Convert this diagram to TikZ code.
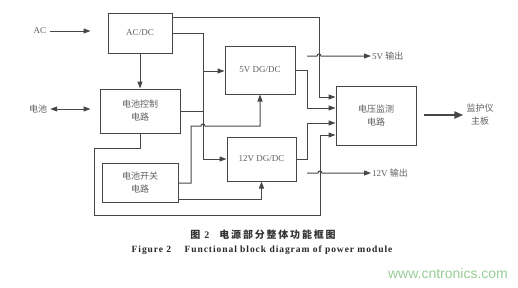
\documentclass[tikz,border=0pt]{standalone}
\usepackage{fontspec}
\setmainfont{Liberation Serif}
\newfontfamily\wmfont{Liberation Sans}
\newfontfamily\cjk{Noto Sans CJK SC}
\newfontfamily\cjkcap[LetterSpace=18]{Noto Sans CJK SC}
\newfontfamily\engcap[LetterSpace=10]{Liberation Serif}
\usetikzlibrary{arrows.meta}
\definecolor{linecol}{RGB}{70,70,70}
\definecolor{txtcol}{RGB}{95,95,95}
\definecolor{wmgreen}{RGB}{150,205,150}

\begin{document}
\begin{tikzpicture}[x=1pt,y=-1pt,
  box/.style={draw=linecol,line width=1pt,align=center,text=txtcol,
    font=\cjk\fontsize{9}{13}\selectfont},
  lbl/.style={text=txtcol,align=center,inner sep=1pt,
    font=\cjk\fontsize{9}{13}\selectfont},
  wire/.style={draw=linecol,line width=1pt},
  arr/.style={wire,-{Triangle[length=7pt,width=5pt]}}]
\useasboundingbox (0,0) rectangle (518,287);

% blocks
\node[box,minimum width=64pt,minimum height=40pt,font=\rmfamily\fontsize{9}{13}\selectfont] (acdc) at (140,33) {AC/DC};
\node[box,minimum width=80pt,minimum height=44pt] (batctrl) at (140,111) {电池控制\\电路};
\node[box,minimum width=76pt,minimum height=39pt] (batsw) at (140,182.5) {电池开关\\电路};
\node[box,minimum width=70pt,minimum height=48pt,font=\rmfamily\fontsize{9}{13}\selectfont] (dc5) at (260,70) {5V DG/DC};
\node[box,minimum width=69pt,minimum height=44pt,font=\rmfamily\fontsize{9}{13}\selectfont] (dc12) at (261.5,159) {12V DG/DC};
\node[box,minimum width=80pt,minimum height=59pt] (mon) at (376,115.5) {电压监测\\电路};

% labels
\node[lbl,font=\rmfamily\fontsize{9}{13}\selectfont] (ac) at (40,31) {AC};
\node[lbl] (bat) at (38,109) {电池};
\node[lbl,anchor=west] (o5) at (371,56) {\rmfamily 5V {\cjk 输出}};
\node[lbl,anchor=west] (o12) at (371,173) {\rmfamily 12V {\cjk 输出}};
\node[lbl] (host) at (480,115) {监护仪\\主板};
\coordinate (o5s) at (307,56);
\coordinate (o12s) at (307,173);

% inputs
\draw[arr,shorten <=3pt,shorten >=17pt] (ac) -- (acdc.west |- ac);
\draw[wire,{Triangle[length=7pt,width=5pt]}-{Triangle[length=7pt,width=5pt]},shorten <=2pt,shorten >=9pt] (bat) -- (batctrl.west |- bat);
\draw[arr] (acdc.south) -- (batctrl.north);

% power paths
\draw[arr] (acdc.east |- {(0,17)}) -- (319,17) -- (319,97) -- (mon.west |- {(0,97)});
\draw[arr] (acdc.east |- {(0,33)}) -| (203,159) -- (dc12.west);
\draw[arr] (203,71) -- (dc5.west |- {(0,71)});
\draw[wire] (batctrl.east) -- (203,111);
\draw[arr] (batctrl.south) -- (140,148) -- (94,148) -- (94,215) -- (320,215) -- (320,135) -- (mon.west |- {(0,135)});
\draw[arr] (batsw.east |- {(0,183)}) -- (191,183) -- (191,126) -- (201,126)
  arc[start angle=180,end angle=0,radius=2pt] -- (260,126) -- (dc5.south);
\draw[arr] (batsw.east |- {(0,199)}) -- (261.5,199) -- (dc12.south);
\draw[arr] (dc5.east |- {(0,70)}) -- (307,70) -- (307,108) -- (mon.west |- {(0,108)});
\draw[arr] (dc12.east) -- (307,159) -- (307,123) -- (mon.west |- {(0,123)});

% outputs
\draw[arr] (o5s) -- (317,56) arc[start angle=180,end angle=0,radius=2pt] -- (o5.west);
\draw[arr] (o12s) -- (318,173) arc[start angle=180,end angle=0,radius=2pt] -- (o12.west);
\draw[draw=linecol,line width=2.4pt,-{Triangle[length=9pt,width=7pt]},shorten <=7pt,shorten >=2pt] (mon.east |- host) -- (host.west);

% caption
\node[text=black!80,font=\cjkcap\bfseries\fontsize{10}{12}\selectfont] (cap1) at (263,235) {图 {\rmfamily 2}\quad 电源部分整体功能框图};
\node[text=black!85,font=\engcap\bfseries\fontsize{9.5}{11}\selectfont] (cap2) at (262,250) {Figure 2\hspace{1.4em}Functional block diagram of power module};
\node[text=wmgreen,font=\wmfont\fontsize{14}{16}\selectfont] (wm) at (448,273) {www.cntronics.com};
\end{tikzpicture}
\end{document}
